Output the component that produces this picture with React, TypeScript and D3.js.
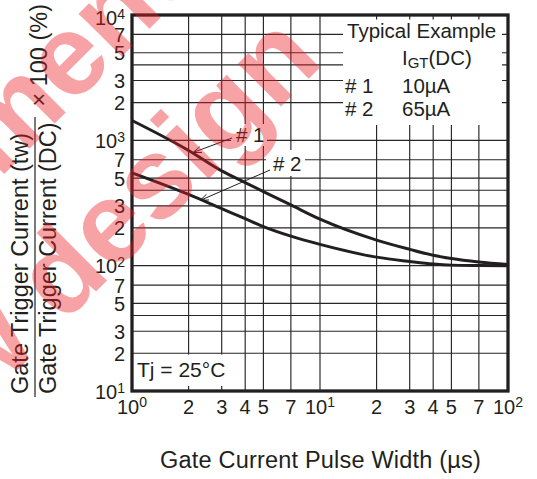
import * as d3 from 'd3';

// gate pulse width (µs)
const pulseWidths = [1, 2, 3, 4, 5, 7, 10, 20, 30, 40, 50, 70, 100];
// IGT(tw) / IGT(DC) x 100 (%)
const sample1 = [1440, 830, 570, 460, 390, 305, 235, 160, 135, 121, 114, 107, 102];
const sample2 = [550, 370, 285, 237, 205, 172, 148, 117, 108, 103, 101, 100.3, 100];

const xGrid = [2, 3, 4, 5, 7, 10, 20, 30, 40, 50, 70];
const yGrid = [20, 30, 40, 50, 70, 100, 200, 300, 400, 500, 700, 1000, 2000, 3000, 4000, 5000, 7000];
const xTickLabels = [
  { v: 1, base: '10', exp: '0' }, { v: 2, base: '2' }, { v: 3, base: '3' }, { v: 4, base: '4' },
  { v: 5, base: '5' }, { v: 7, base: '7' }, { v: 10, base: '10', exp: '1' }, { v: 20, base: '2' },
  { v: 30, base: '3' }, { v: 40, base: '4' }, { v: 50, base: '5' }, { v: 70, base: '7' },
  { v: 100, base: '10', exp: '2' },
];
const yTickLabels = [
  { v: 10, base: '10', exp: '1' }, { v: 20, base: '2' }, { v: 30, base: '3' }, { v: 50, base: '5' },
  { v: 70, base: '7' }, { v: 100, base: '10', exp: '2' }, { v: 200, base: '2' }, { v: 300, base: '3' },
  { v: 500, base: '5' }, { v: 700, base: '7' }, { v: 1000, base: '10', exp: '3' }, { v: 2000, base: '2' },
  { v: 3000, base: '3' }, { v: 5000, base: '5' }, { v: 7000, base: '7' }, { v: 10000, base: '10', exp: '4' },
];

const W = 537, H = 479;
const ink = '#231f20';
const font = '"Liberation Sans", Arial, sans-serif';

export default function App() {
  const left = 132, right = 508, top = 15, bottom = 391;
  const x = d3.scaleLog().domain([1, 100]).range([left, right]);
  const y = d3.scaleLog().domain([10, 10000]).range([bottom, top]);

  const line = d3.line<number>()
    .x((_, i) => x(pulseWidths[i]))
    .y(d => y(d))
    .curve(d3.curveMonotoneX);

  // open arrow head at (tx,ty) coming from (fx,fy)
  const arrow = (fx: number, fy: number, tx: number, ty: number) => {
    const a = Math.atan2(ty - fy, tx - fx);
    const len = 9, spread = 0.35;
    const p1 = [tx - len * Math.cos(a - spread), ty - len * Math.sin(a - spread)];
    const p2 = [tx - len * Math.cos(a + spread), ty - len * Math.sin(a + spread)];
    return `M${fx},${fy}L${tx},${ty}M${p1[0]},${p1[1]}L${tx},${ty}L${p2[0]},${p2[1]}`;
  };

  return (
    <svg width={W} height={H} style={{ position: 'absolute', left: 0, top: 0, background: '#fff' }}
      fontFamily={font} fill={ink}>
      {/* grid */}
      <g stroke="#262626" strokeWidth={1.15}>
        {xGrid.map(v => <line key={'x' + v} x1={x(v)} x2={x(v)} y1={top} y2={bottom} />)}
        {yGrid.map(v => <line key={'y' + v} x1={left} x2={right} y1={y(v)} y2={y(v)} />)}
      </g>

      {/* white boxes behind annotations */}
      <rect x={343} y={19.5} width={159} height={105.5} fill="#fff" />
      <rect x={left} y={354.5} width={100} height={31.5} fill="#fff" />
      <rect x={231} y={124} width={36} height={22} fill="#fff" />
      <rect x={266} y={150} width={39} height={26} fill="#fff" />

      {/* curves */}
      <path d={line(sample1) || ''} fill="none" stroke={ink} strokeWidth={3} />
      <path d={line(sample2) || ''} fill="none" stroke={ink} strokeWidth={3} />

      {/* pointers */}
      <path d={arrow(232, 138, 193, 152.5)} fill="none" stroke={ink} strokeWidth={1} />
      <path d={arrow(270, 170, 200, 200.5)} fill="none" stroke={ink} strokeWidth={1} />
      <text x={236} y={141.5} fontSize={20.5}># 1</text>
      <text x={273} y={171} fontSize={20.5}># 2</text>

      {/* frame */}
      <rect x={left} y={top} width={right - left} height={bottom - top} fill="none" stroke={ink} strokeWidth={3.3} />

      {/* y tick labels */}
      <g fontSize={20} textAnchor="end">
        {yTickLabels.map(t => (
          <text key={'yl' + t.v} x={125} y={y(t.v) + (t.v === 10000 ? 10 : 7.5)}>
            {t.base}
            {t.exp && <tspan fontSize={14} dy={-6}>{t.exp}</tspan>}
          </text>
        ))}
      </g>

      {/* x tick labels */}
      <g fontSize={20} textAnchor="middle">
        {xTickLabels.map(t => (
          <text key={'xl' + t.v} x={x(t.v)} y={414}>
            {t.base}
            {t.exp && <tspan fontSize={14} dy={-7}>{t.exp}</tspan>}
          </text>
        ))}
      </g>

      {/* annotations */}
      <g fontSize={20.5}>
        <text x={347} y={37.5}>Typical Example</text>
        <text x={402} y={64.5}>I<tspan fontSize={15} dy={3}>GT</tspan><tspan dy={-3}>(DC)</tspan></text>
        <text x={345} y={92.5}># 1</text>
        <text x={402} y={92.5}>10µA</text>
        <text x={345} y={115.5}># 2</text>
        <text x={402} y={115.5}>65µA</text>
        <text x={137} y={377} fontSize={21}>Tj = 25°C</text>
      </g>

      {/* axis titles */}
      <text x={320.5} y={468} fontSize={23.5} letterSpacing={0.2} textAnchor="middle">Gate Current Pulse Width  (µs)</text>
      <g fontSize={23.5}>
        <text transform="translate(28,394) rotate(-90)">Gate Trigger Current (tw)</text>
        <text transform="translate(56,394) rotate(-90)">Gate Trigger Current (DC)</text>
        <text transform="translate(47,4) rotate(-90)" textAnchor="end">× 100 (%)</text>
      </g>
      <line x1={35} x2={35} y1={117} y2={397} stroke={ink} strokeWidth={1.2} />

      {/* watermark */}
      <g transform="rotate(-45)" fontSize={115} fontWeight="bold" fill="#ec1c24" opacity={0.4}>
        <text x={-697} y={126}>Not recommended</text>
        <text x={-626} y={274}>for new design</text>
      </g>
    </svg>
  );
}
